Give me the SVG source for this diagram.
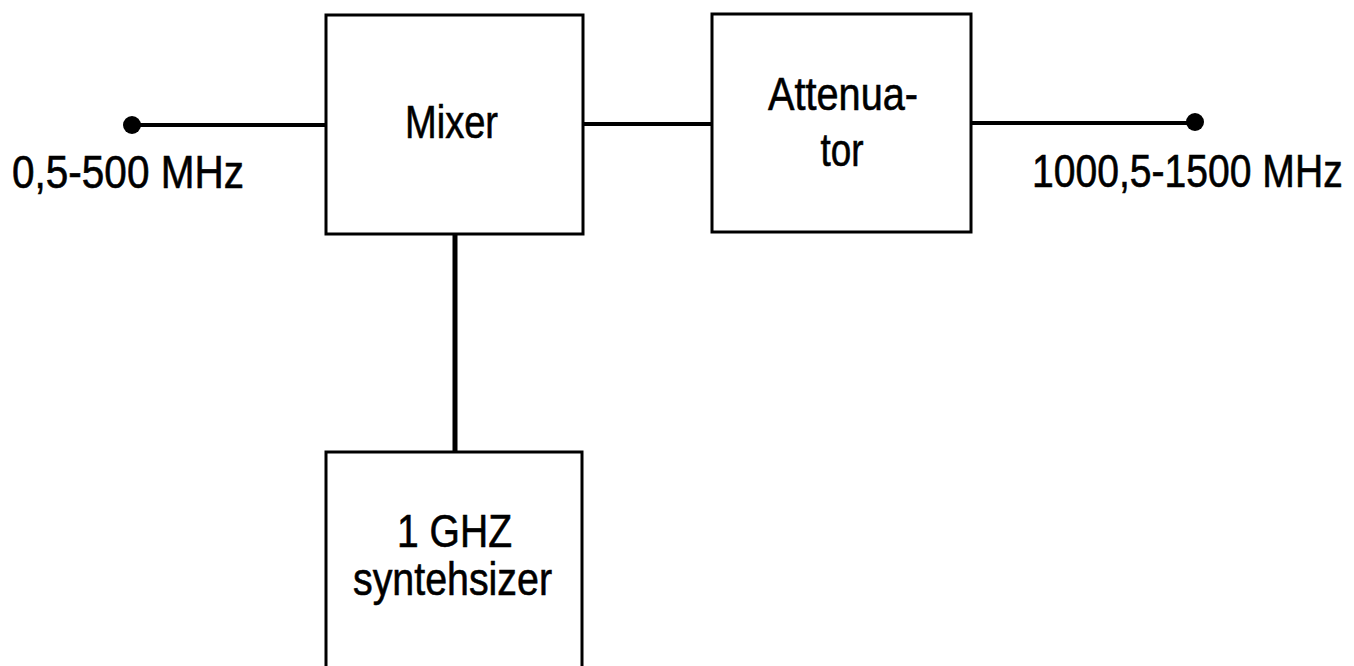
<svg xmlns="http://www.w3.org/2000/svg" width="1354" height="666" viewBox="0 0 1354 666">
<style>
.box{fill:#fff;stroke:#000;stroke-width:3}
.wire{stroke:#000;stroke-width:4;fill:none}
.dot{fill:#000}
text{font-family:"Liberation Sans",Arial,sans-serif;font-size:46px;fill:#000;stroke:#000;stroke-width:0.6}
.c{text-anchor:middle}
</style>
<rect width="1354" height="666" fill="#fff"/>
<g id="connectors">
<line class="wire" x1="132" y1="125" x2="326" y2="125"/>
<line class="wire" x1="583" y1="124" x2="712" y2="124"/>
<line class="wire" x1="971" y1="123" x2="1195" y2="123"/>
<line class="wire" x1="455" y1="234" x2="455" y2="452" style="stroke-width:5"/>
<circle class="dot" cx="132" cy="125" r="9"/>
<circle class="dot" cx="1195" cy="122" r="9"/>
</g>
<g id="mixer">
<rect class="box" x="326" y="15" width="257" height="219"/>
<text class="c" x="451.5" y="138" textLength="93" lengthAdjust="spacingAndGlyphs">Mixer</text>
</g>
<g id="attenuator">
<rect class="box" x="712" y="14" width="259" height="218"/>
<text class="c" x="843" y="110" textLength="150" lengthAdjust="spacingAndGlyphs">Attenua-</text>
<text class="c" x="842" y="166" textLength="43" lengthAdjust="spacingAndGlyphs">tor</text>
</g>
<g id="synthesizer">
<rect class="box" x="326" y="452" width="256" height="230"/>
<text class="c" x="454.5" y="547" textLength="115" lengthAdjust="spacingAndGlyphs">1 GHZ</text>
<text class="c" x="452.5" y="595" textLength="199" lengthAdjust="spacingAndGlyphs">syntehsizer</text>
</g>
<g id="input">
<text x="12" y="188" textLength="232" lengthAdjust="spacingAndGlyphs">0,5-500 MHz</text>
</g>
<g id="output">
<text transform="translate(1032,187) scale(0.85,1)" x="0" y="0">1000,5-1500 MHz</text>
</g>
</svg>
